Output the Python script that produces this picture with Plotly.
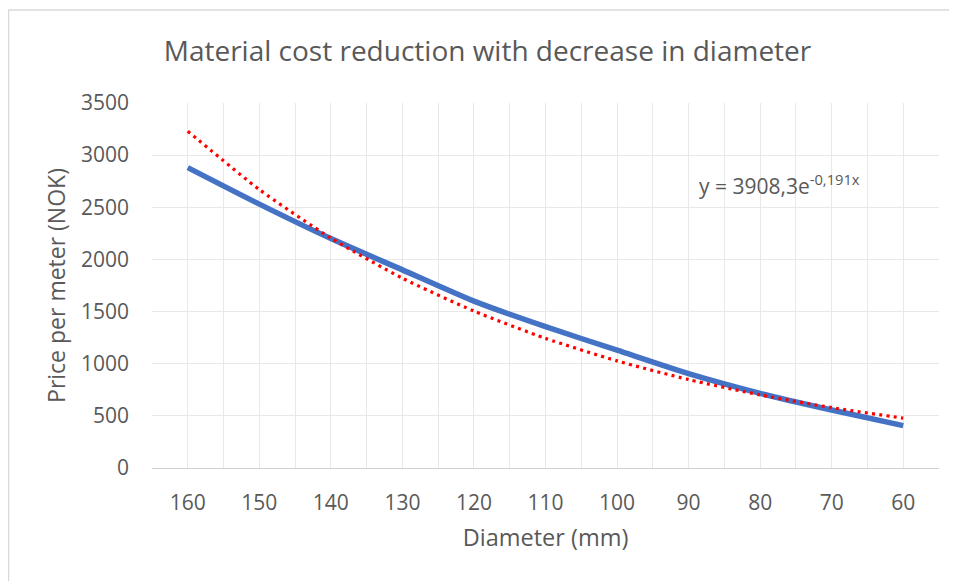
import plotly.graph_objects as go

diameters = ["160", "150", "140", "130", "120", "110", "100", "90", "80", "70", "60"]
price = [2880, 2530, 2200, 1900, 1600, 1355, 1130, 905, 716, 556, 406]
trend = [3230, 2670, 2205, 1820, 1505, 1243, 1027, 848, 701, 579, 478]
y_ticks = [0, 500, 1000, 1500, 2000, 2500, 3000, 3500]

idx = list(range(len(diameters)))
FONT = "Open Sans, Liberation Sans, sans-serif"
GRAY = "#595959"

fig = go.Figure()
fig.add_trace(go.Scatter(x=idx, y=price, mode="lines",
                         line=dict(color="#4472C4", width=5.5, shape="spline", smoothing=0.6),
                         showlegend=False, hoverinfo="skip"))
fig.add_trace(go.Scatter(x=idx, y=trend, mode="lines",
                         line=dict(color="#FF0000", width=3.2, dash="3px,4.3px", shape="spline", smoothing=0.6),
                         showlegend=False, hoverinfo="skip"))

# page has an 8px body margin; work in screen coordinates and convert
OFF = 8
SW, SH = 957, 581
W, H = SW - OFF, SH - OFF
PL, PR, PT, PB = 152, 939, 103, 468  # plot area in screen px
L, R, T, B = PL - OFF, SW - PR, PT - OFF, SH - PB
pw, ph = PR - PL, PB - PT

def px(xs):
    return (xs - PL) / pw

def py(ys):
    return (PB - ys) / ph

fig.update_layout(
    width=W, height=H,
    margin=dict(l=L, r=R, t=T, b=B, autoexpand=False),
    paper_bgcolor="white", plot_bgcolor="white",
    font=dict(family=FONT, color=GRAY),
    title=dict(text="Material cost reduction with decrease in diameter",
               x=(487.5 - OFF) / W, xref="container", xanchor="center",
               y=1 - (51 - OFF) / H, yref="container", yanchor="middle",
               font=dict(size=28, color=GRAY, family=FONT)),
    xaxis=dict(range=[-0.5, len(diameters) - 0.5], tickvals=idx, ticktext=diameters,
               showgrid=True, gridcolor="#E8E8E8", gridwidth=1,
               minor=dict(tickvals=[i - 0.5 for i in range(len(diameters) + 1)],
                          showgrid=True, gridcolor="#E8E8E8", gridwidth=1, ticks=""),
               showline=True, linecolor="#D0D0D0", linewidth=1, mirror=False,
               ticks="", zeroline=False, ticklabelstandoff=16,
               tickfont=dict(size=21, color=GRAY),
               title=dict(text="Diameter (mm)", font=dict(size=23.5, color=GRAY), standoff=14)),
    yaxis=dict(range=[0, 3500], tickvals=y_ticks,
               showgrid=True, gridcolor="#E8E8E8", gridwidth=1,
               zeroline=False, showline=False, ticks="", ticklabelstandoff=22,
               tickfont=dict(size=21, color=GRAY),
               title=dict(text="Price per meter (NOK)", font=dict(size=23, color=GRAY), standoff=8)),
)

fig.add_annotation(text="y = 3908,3e<sup>-0,191x</sup>", x=px(697), y=py(184),
                   xref="paper", yref="paper", xanchor="left", yanchor="middle",
                   showarrow=False, font=dict(size=21, color=GRAY, family=FONT))

# chart outer border (only the left and top edges are visible in the frame)
fig.add_shape(type="path", xref="paper", yref="paper",
              path=f"M {px(OFF + 0.5)} {py(SH + 5)} L {px(OFF + 0.5)} {py(OFF + 2)} L {px(SW + 5)} {py(OFF + 2)}",
              line=dict(color="#D9D9D9", width=1.5))

fig.write_html("out.html")
